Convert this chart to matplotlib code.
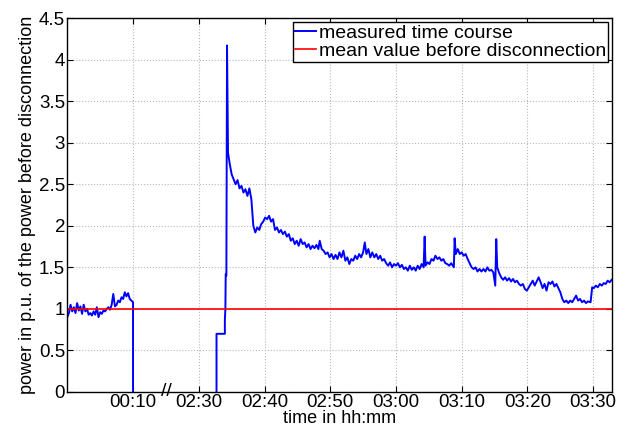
import matplotlib.pyplot as plt

plt.rcParams['font.family'] = ['Liberation Sans', 'DejaVu Sans']

# x axis is compressed: 0..10 -> 00:00..00:10, 20..80 -> 02:30..03:30 (break between)
tick_pos = [10, 20, 30, 40, 50, 60, 70, 80]
tick_labels = ['00:10', '02:30', '02:40', '02:50', '03:00', '03:10', '03:20', '03:30']
y_ticks = [0, 0.5, 1, 1.5, 2, 2.5, 3, 3.5, 4, 4.5]
y_labels = ['0', '0.5', '1', '1.5', '2', '2.5', '3', '3.5', '4', '4.5']

mean_before = 1.0

# before disconnection
t1 = [0.0, 0.25, 0.5, 0.75, 1.0, 1.25, 1.5, 1.75, 2.0, 2.25, 2.5, 2.75, 3.0, 3.25,
      3.5, 3.75, 4.0, 4.25, 4.5, 4.75, 5.0, 5.25, 5.5, 5.75, 6.0, 6.25, 6.5, 6.75,
      7.0, 7.25, 7.5, 7.75, 8.0, 8.25, 8.5, 8.75, 9.0, 9.25, 9.5, 9.75, 10.0, 10.0]
p1 = [0.9, 0.95, 1.05, 0.97, 1.02, 0.95, 1.07, 0.98, 1.03, 0.94, 1.05, 0.97, 1.0, 0.93,
      0.95, 0.92, 0.97, 0.93, 1.02, 0.9, 0.96, 0.94, 0.98, 0.97, 1.0, 1.02, 0.99, 1.05,
      1.18, 1.03, 1.05, 1.1, 1.08, 1.14, 1.12, 1.2, 1.15, 1.19, 1.12, 1.1, 1.08, 0.0]

# after reconnection
t2 = [22.7, 22.7, 23.97, 23.97, 24.05, 24.1, 24.2, 24.3, 24.45,
      24.7, 25.0, 25.3, 25.6, 25.9, 26.2, 26.5, 26.8, 27.1, 27.4, 27.7, 28.0, 28.3,
      28.6, 28.9, 29.2, 29.5, 29.8, 30.1, 30.4, 30.7, 31.0, 31.3, 31.6, 31.9, 32.2,
      32.5, 32.8, 33.1, 33.4, 33.7, 34.0, 34.3, 34.6, 34.9, 35.2, 35.5, 35.8, 36.1,
      36.4, 36.7, 37.0, 37.3, 37.6, 37.9, 38.2, 38.4, 38.7, 39.0, 39.3, 39.6, 39.9,
      40.2, 40.5, 40.8, 41.1, 41.4, 41.7, 42.0, 42.3, 42.6, 42.9, 43.2, 43.5, 43.8,
      44.1, 44.4, 44.7, 45.0, 45.25, 45.5, 45.8, 46.1, 46.4, 46.7, 47.0, 47.3, 47.6,
      47.9, 48.2, 48.5, 48.8, 49.1, 49.4, 49.7, 50.0, 50.3, 50.6, 50.9, 51.2, 51.5,
      51.8, 52.1, 52.4, 52.7, 53.0, 53.3, 53.6, 53.9, 54.2, 54.36, 54.5, 54.8, 55.1,
      55.4, 55.7, 56.0, 56.3, 56.6, 56.9, 57.2, 57.5, 57.8, 58.1, 58.4, 58.8, 58.92,
      59.1, 59.4, 59.7, 60.0, 60.3, 60.6, 60.9, 61.2, 61.5, 61.8, 62.1, 62.4, 62.7,
      63.0, 63.3, 63.6, 63.9, 64.2, 64.5, 64.8, 65.1, 65.25, 65.4, 65.7, 66.0, 66.3,
      66.6, 66.9, 67.2, 67.5, 67.8, 68.1, 68.4, 68.7, 69.0, 69.3, 69.6, 69.9, 70.2,
      70.5, 70.8, 71.1, 71.4, 71.7, 72.0, 72.3, 72.6, 72.9, 73.2, 73.5, 73.8, 74.1,
      74.4, 74.7, 75.0, 75.3, 75.6, 75.9, 76.2, 76.5, 76.8, 77.1, 77.4, 77.7, 78.0,
      78.3, 78.6, 78.9, 79.2, 79.6, 79.84, 80.1, 80.4, 80.7, 81.0, 81.3, 81.6, 81.9,
      82.2, 82.5, 82.8]
p2 = [0.0, 0.7, 0.7, 0.87, 1.0, 1.42, 1.4, 4.17, 2.88,
      2.75, 2.62, 2.56, 2.5, 2.55, 2.45, 2.48, 2.4, 2.44, 2.36, 2.45, 2.32, 2.0,
      1.92, 1.98, 1.95, 2.02, 2.05, 2.1, 2.08, 2.12, 2.05, 2.08, 1.95, 1.98, 1.92,
      1.95, 1.9, 1.93, 1.87, 1.9, 1.82, 1.85, 1.78, 1.82, 1.76, 1.84, 1.78, 1.8,
      1.74, 1.78, 1.72, 1.76, 1.73, 1.77, 1.72, 1.82, 1.72, 1.7, 1.66, 1.68, 1.62,
      1.66, 1.6, 1.65, 1.6, 1.68, 1.62, 1.7, 1.58, 1.62, 1.54, 1.6, 1.58, 1.64,
      1.6, 1.66, 1.62, 1.68, 1.8, 1.66, 1.72, 1.62, 1.68, 1.62, 1.66, 1.6, 1.64,
      1.58, 1.6, 1.55, 1.52, 1.56, 1.5, 1.54, 1.52, 1.55, 1.5, 1.53, 1.48, 1.5,
      1.46, 1.52, 1.47, 1.5, 1.46, 1.52, 1.48, 1.54, 1.5, 1.87, 1.52, 1.56, 1.54,
      1.6, 1.58, 1.64, 1.6, 1.62, 1.58, 1.6, 1.55, 1.54, 1.52, 1.55, 1.5, 1.85,
      1.66, 1.72, 1.66, 1.68, 1.64, 1.66, 1.6, 1.55, 1.5, 1.48, 1.5, 1.45, 1.48,
      1.45, 1.48, 1.45, 1.5, 1.46, 1.47, 1.44, 1.28, 1.84, 1.5, 1.43, 1.38, 1.35,
      1.38, 1.34, 1.37, 1.33, 1.36, 1.32, 1.34, 1.3, 1.28, 1.3, 1.24, 1.22, 1.26,
      1.3, 1.34, 1.28, 1.33, 1.38, 1.32, 1.25, 1.3, 1.22, 1.32, 1.3, 1.33, 1.27,
      1.3, 1.25, 1.2, 1.12, 1.08, 1.1, 1.07, 1.1, 1.08, 1.12, 1.16, 1.1, 1.12,
      1.08, 1.1, 1.07, 1.09, 1.08, 1.26, 1.25, 1.28, 1.26, 1.3, 1.28, 1.31, 1.3,
      1.34, 1.32, 1.35]

fig = plt.figure(figsize=(6.27, 4.30), dpi=100)
ax = fig.add_axes([0.1073, 0.0884, 0.8687, 0.8696])

ax.plot(t1, p1, color='blue', lw=1.4, label='measured time course')
ax.plot(t2, p2, color='blue', lw=1.4)
ax.axhline(mean_before, color='red', lw=1.2, label='mean value before disconnection')

ax.set_xlim(0, 82.85)
ax.set_ylim(0, 4.5)
ax.set_xticks(tick_pos)
ax.set_xticklabels(tick_labels)
ax.set_yticks(y_ticks)
ax.set_yticklabels(y_labels)
ax.tick_params(direction='in', top=True, right=True, labelsize=13.5, length=4, pad=1.5)
ax.grid(True, color='#b8b8b8', linestyle=':', linewidth=0.8)
for s in ax.spines.values():
    s.set_linewidth(1.0)

ax.set_xlabel('time in hh:mm', fontsize=13, labelpad=-1)
ax.set_ylabel('power in p.u. of the power before disconnection', fontsize=13, labelpad=2)

# axis break marker
ax.text(15, 0, '//', ha='center', va='center', fontsize=14, clip_on=False,
        transform=ax.transData)

leg = ax.legend(loc='upper right', fontsize=14, fancybox=False, framealpha=1,
                edgecolor='black', handlelength=1.1, handletextpad=0.15,
                labelspacing=0.05, borderpad=0.1, borderaxespad=0.2)
leg.get_frame().set_linewidth(1.0)

fig.savefig('out.png', dpi=100)
